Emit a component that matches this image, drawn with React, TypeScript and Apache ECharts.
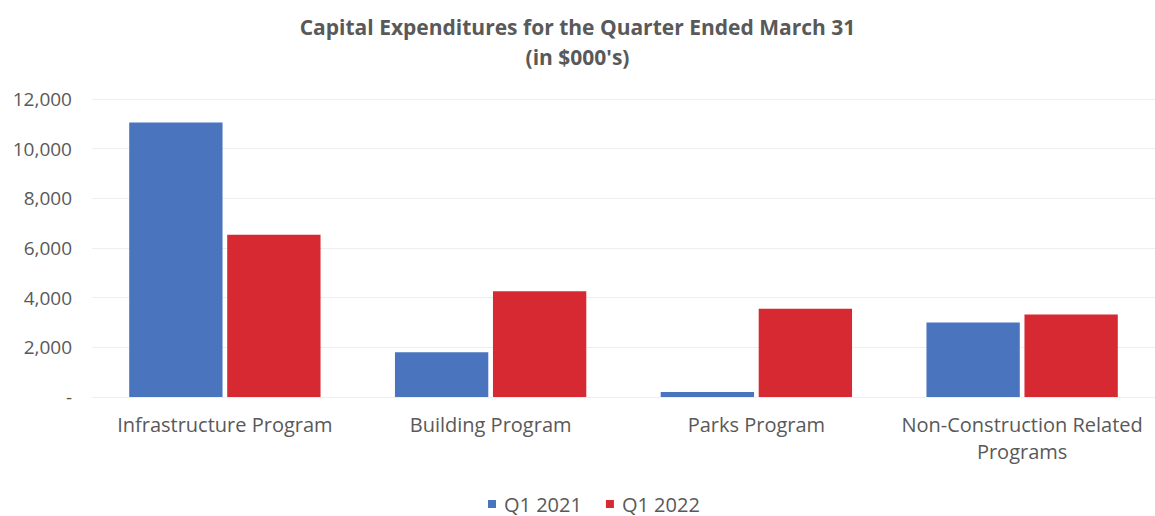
import React, { useEffect, useRef } from "react";
import * as echarts from "echarts";

const categories = [
  "Infrastructure Program",
  "Building Program",
  "Parks Program",
  "Non-Construction Related\nPrograms",
];
const q12021 = [11050, 1800, 200, 3000];
const q12022 = [6530, 4260, 3550, 3320];
const seriesNames = ["Q1 2021", "Q1 2022"];

const FONT = "'Open Sans', sans-serif";

export default function App() {
  const ref = useRef<HTMLDivElement>(null);
  useEffect(() => {
    if (!ref.current) return;
    const chart = echarts.init(ref.current, undefined, { renderer: "svg" });
    chart.setOption({
      animation: false,
      backgroundColor: "#ffffff",
      title: {
        text: "Capital Expenditures for the Quarter Ended March 31\n(in $000's)",
        left: "center",
        top: 7,
        textStyle: {
          fontFamily: FONT,
          fontSize: 21,
          fontWeight: "bold",
          color: "#595959",
          lineHeight: 30,
        },
      },
      legend: {
        top: 493,
        left: 488,
        padding: 0,
        icon: "rect",
        itemWidth: 8,
        itemHeight: 8,
        itemGap: 24,
        textStyle: {
          fontFamily: FONT,
          fontSize: 20,
          lineHeight: 22,
          color: "#595959",
          padding: [0, 0, 0, 3],
        },
        data: seriesNames,
      },
      grid: { left: 92, right: -6, top: 99, bottom: 119 },
      xAxis: {
        type: "category",
        data: categories,
        axisLine: { show: true, lineStyle: { color: "#eeeeee" } },
        axisTick: { show: false },
        axisLabel: {
          fontFamily: FONT,
          fontSize: 20,
          color: "#595959",
          margin: 14,
          lineHeight: 27,
          interval: 0,
        },
      },
      yAxis: {
        type: "value",
        min: 0,
        max: 12000,
        interval: 2000,
        axisLine: { show: false },
        axisTick: { show: false },
        splitLine: { lineStyle: { color: "#eeeeee" } },
        axisLabel: {
          fontFamily: FONT,
          fontSize: 19,
          color: "#595959",
          margin: 20,
          formatter: (v: number) => (v === 0 ? "-" : v.toLocaleString("en-US")),
        },
      },
      series: [
        {
          name: seriesNames[0],
          type: "bar",
          data: q12021,
          barGap: "5%",
          barCategoryGap: "28%",
          itemStyle: { color: "#4a74be" },
        },
        {
          name: seriesNames[1],
          type: "bar",
          data: q12022,
          itemStyle: { color: "#d62932" },
        },
      ],
    });
    return () => chart.dispose();
  }, []);
  return (
    <div
      ref={ref}
      style={{ position: "fixed", left: 0, top: 0, width: 1155, height: 516 }}
    />
  );
}
